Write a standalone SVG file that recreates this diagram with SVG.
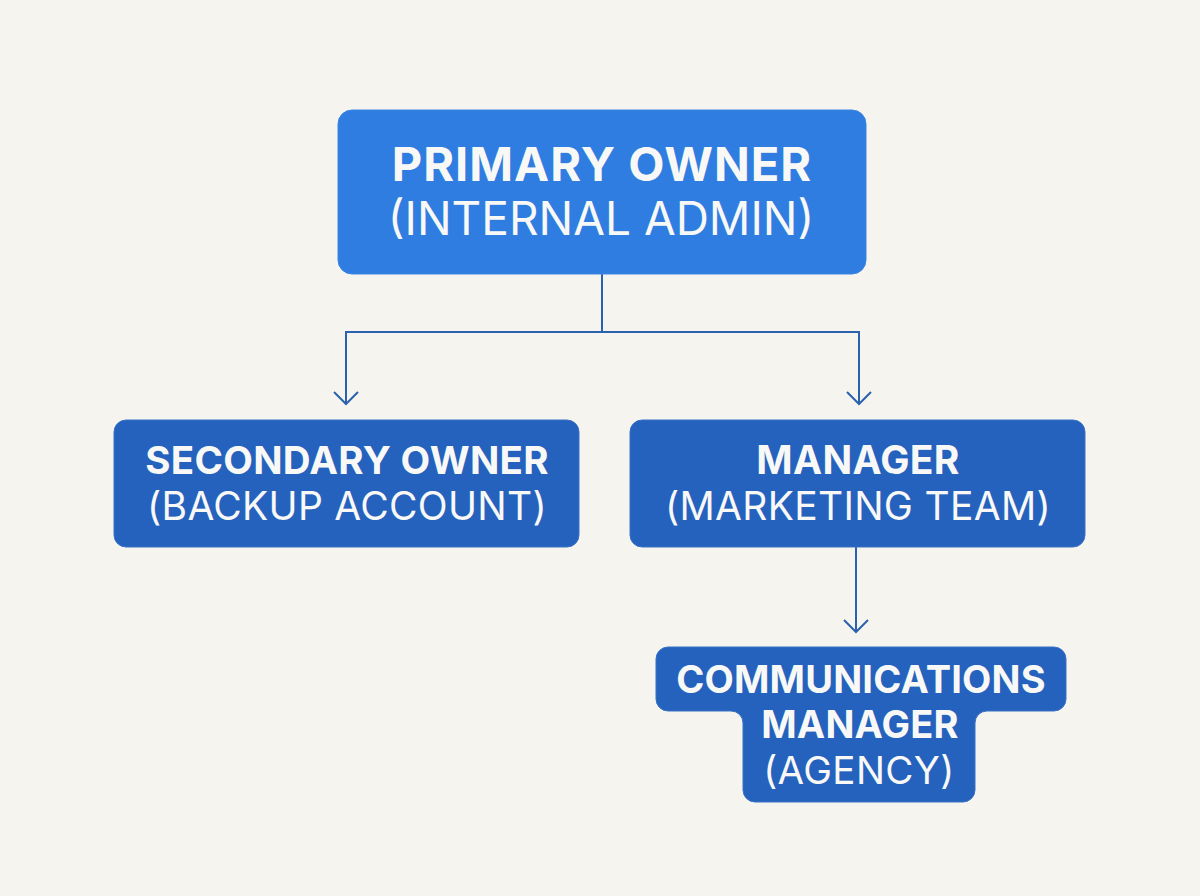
<svg xmlns="http://www.w3.org/2000/svg" width="1200" height="896" viewBox="0 0 1200 896">
<style>
.bg{fill:#f6f4ef}
.n1{fill:#2f7de0;stroke:#3c86e2;stroke-width:1}
.n2{fill:#2562bd;stroke:#3a72c6;stroke-width:1}
.t{font-family:Inter,"Liberation Sans",sans-serif;fill:#f8f8f6;text-anchor:middle}
.b{font-weight:700}
.r{font-weight:400}
.c{fill:none;stroke:#2b62ad;stroke-width:2}
</style>
<defs>
<marker id="ah" markerWidth="30" markerHeight="30" refX="13" refY="13" orient="auto" markerUnits="userSpaceOnUse" viewBox="0 0 30 30">
<path d="M1,1 L13,13 L1,25" fill="none" stroke="#2b62ad" stroke-width="2"/>
</marker>
</defs>
<rect class="bg" x="0" y="0" width="1200" height="896"/>
<g id="connectors">
<path class="c" d="M602,274 V332 H346 V404" marker-end="url(#ah)"/>
<path class="c" d="M602,332 H859 V404" marker-end="url(#ah)"/>
<path class="c" d="M856,547 V632" marker-end="url(#ah)"/>
</g>
<g id="primary">
<rect class="n1" x="338" y="110" width="528" height="164" rx="14"/>
<text class="t b" x="602" y="181" font-size="47" letter-spacing="1">PRIMARY OWNER</text>
<text class="t r" x="601" y="235" font-size="46">(INTERNAL ADMIN)</text>
</g>
<g id="secondary">
<rect class="n2" x="114" y="420" width="465" height="127" rx="12"/>
<text class="t b" x="347" y="474" font-size="38.5" letter-spacing="0.3">SECONDARY OWNER</text>
<text class="t r" x="347" y="520" font-size="39" letter-spacing="0.3">(BACKUP ACCOUNT)</text>
</g>
<g id="manager">
<rect class="n2" x="630" y="420" width="455" height="127" rx="12"/>
<text class="t b" x="858" y="474" font-size="39" letter-spacing="0.3">MANAGER</text>
<text class="t r" x="858" y="520" font-size="39" letter-spacing="0.3">(MARKETING TEAM)</text>
</g>
<g id="comms">
<path class="n2" d="M668,647 H1054 A12,12 0 0 1 1066,659 V699 A12,12 0 0 1 1054,711 H987 A12,12 0 0 0 975,723 V790 A12,12 0 0 1 963,802 H755 A12,12 0 0 1 743,790 V723 A12,12 0 0 0 731,711 H668 A12,12 0 0 1 656,699 V659 A12,12 0 0 1 668,647 Z"/>
<text class="t b" x="861" y="693" font-size="38" letter-spacing="0.2">COMMUNICATIONS</text>
<text class="t b" x="860" y="738" font-size="38" letter-spacing="0.2">MANAGER</text>
<text class="t r" x="859" y="784" font-size="38.5" letter-spacing="0.4">(AGENCY)</text>
</g>
</svg>
